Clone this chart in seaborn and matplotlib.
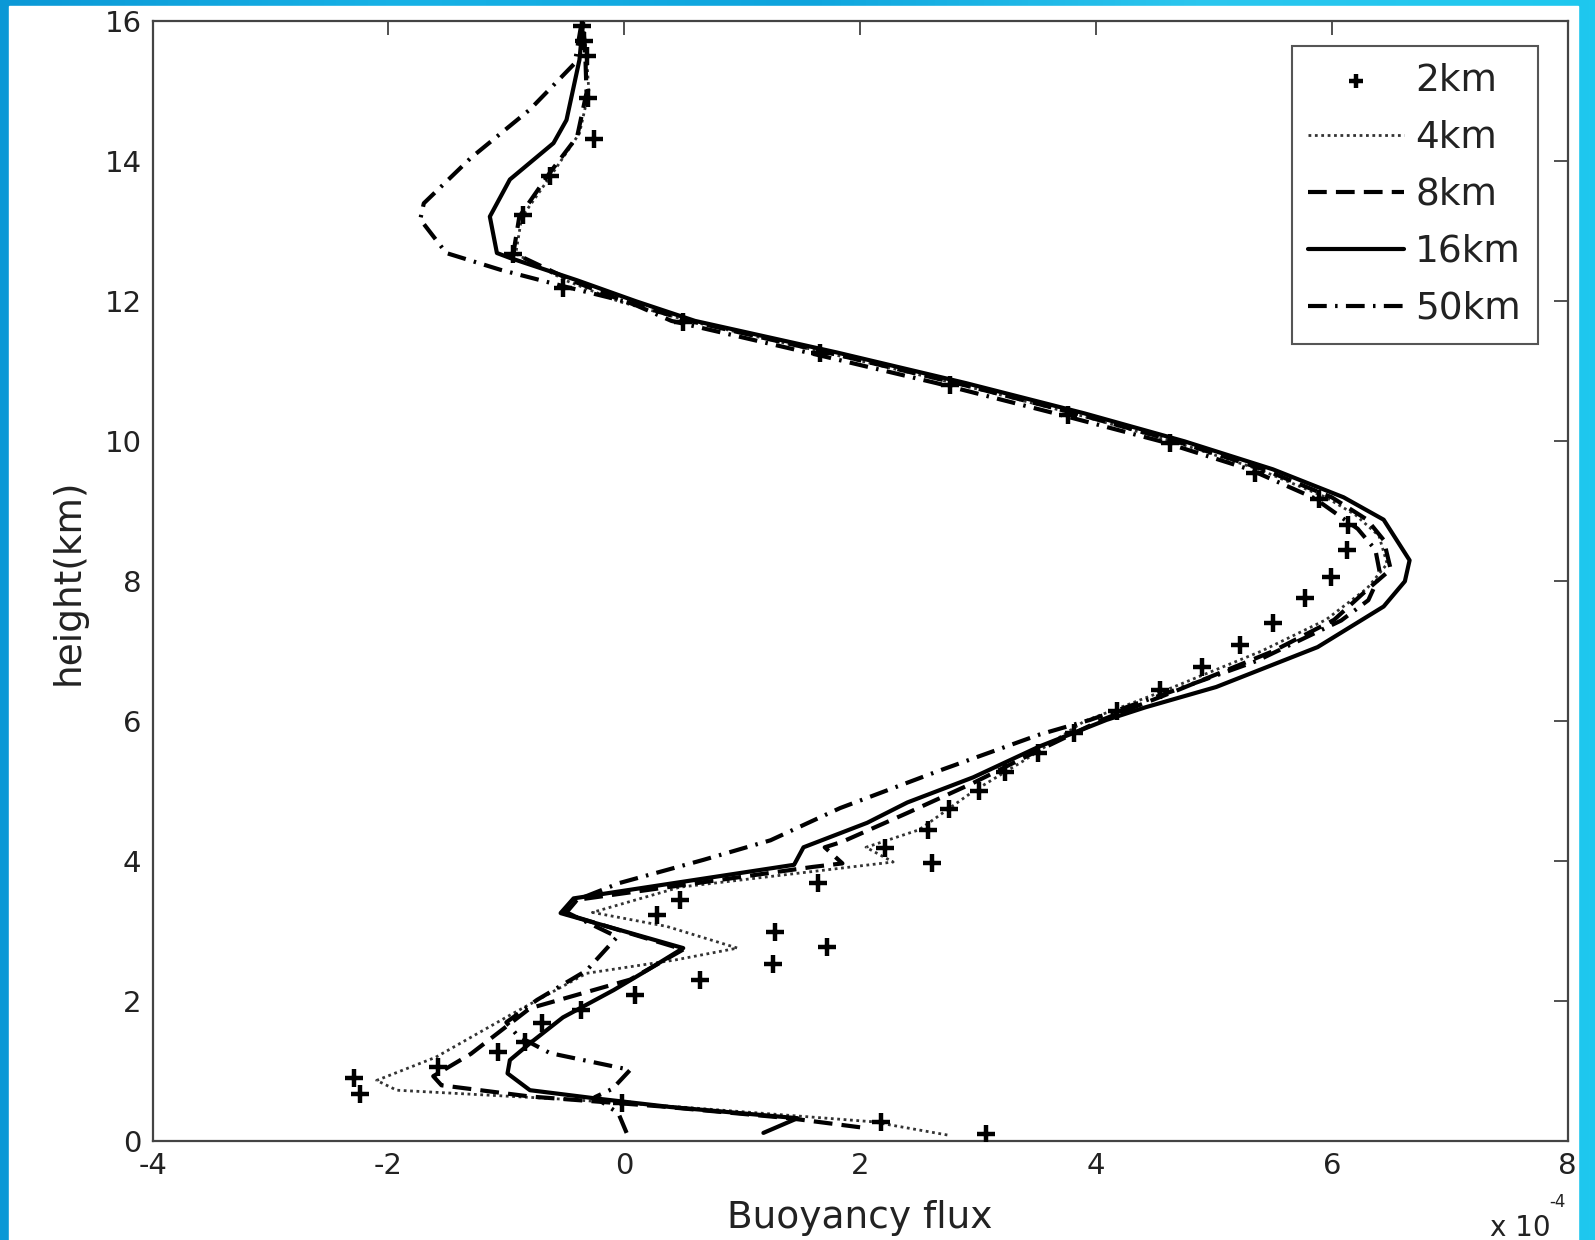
import numpy as np
import pandas as pd
import matplotlib
matplotlib.use("Agg")
import matplotlib.pyplot as plt
import seaborn as sns
from matplotlib.patches import Rectangle
from matplotlib.colors import LinearSegmentedColormap

# ---------------- data (buoyancy flux in 1e-4 units, height in km) ----------------
x_2km = [-0.36, -0.34, -0.32, -0.31, -0.26, -0.63, -0.86, -0.94, -0.52, 0.50, 1.66, 2.76, 3.76,
         4.63, 5.35, 5.89, 6.14, 6.13, 5.99, 5.77, 5.50, 5.22, 4.90, 4.54, 4.18, 3.81, 3.51,
         3.23, 3.01, 2.75, 2.58, 2.21, 2.61, 1.64, 0.47, 0.28, 1.28, 1.72, 1.26, 0.64, 0.09,
         -0.37, -0.70, -0.84, -1.07, -1.58, -2.29, -2.24, -0.02, 2.18, 3.07]
y_2km = [15.93, 15.72, 15.51, 14.90, 14.32, 13.79, 13.23, 12.67, 12.19, 11.70, 11.26, 10.81, 10.38,
         9.97, 9.55, 9.17, 8.81, 8.45, 8.06, 7.76, 7.40, 7.09, 6.78, 6.45, 6.15, 5.84, 5.55,
         5.28, 5.00, 4.75, 4.45, 4.19, 3.97, 3.69, 3.45, 3.23, 2.99, 2.78, 2.54, 2.31, 2.09,
         1.88, 1.69, 1.42, 1.28, 1.06, 0.90, 0.67, 0.55, 0.28, 0.11]

x_4km = [2.74, 2.10, 0.40, -0.50, -1.93, -2.10, -1.60, -0.94, -0.32, 0.43, 0.96, 0.36, -0.27,
         0.47, 2.28, 2.05, 2.50, 2.96, 3.40, 3.90, 4.60, 5.40, 5.95, 6.30, 6.47, 6.40, 6.20,
         5.95, 5.38, 4.65, 3.80, 2.80, 1.70, 0.55, -0.05, -0.50, -0.92, -0.87, -0.60, -0.38,
         -0.30, -0.32, -0.35]
y_4km = [0.09, 0.28, 0.50, 0.60, 0.73, 0.87, 1.20, 1.83, 2.40, 2.59, 2.76, 3.07, 3.27,
         3.63, 3.99, 4.20, 4.45, 5.00, 5.45, 6.00, 6.45, 7.00, 7.45, 7.90, 8.25, 8.65, 8.95,
         9.20, 9.60, 10.00, 10.40, 10.83, 11.27, 11.72, 12.00, 12.30, 12.68, 13.20, 13.85, 14.40,
         15.00, 15.50, 16.00]

x_8km = [2.00, 1.40, 0.30, -0.80, -1.55, -1.62, -1.30, -0.80, 0.05, 0.50, -0.50, -0.40, 1.60,
         1.85, 1.70, 1.85, 2.40, 2.96, 3.52, 4.05, 4.70, 5.50, 6.02, 6.30, 6.50, 6.44, 6.30,
         6.00, 5.42, 4.68, 3.82, 2.82, 1.72, 0.55, 0.00, -0.45, -0.94, -0.89, -0.63, -0.40,
         -0.32, -0.33, -0.35]
y_8km = [0.20, 0.33, 0.50, 0.64, 0.80, 0.93, 1.25, 1.90, 2.31, 2.74, 3.25, 3.45, 3.92,
         3.97, 4.20, 4.28, 4.69, 5.12, 5.59, 6.02, 6.45, 7.00, 7.45, 7.88, 8.17, 8.59, 8.88,
         9.20, 9.60, 10.00, 10.40, 10.83, 11.27, 11.72, 12.00, 12.30, 12.69, 13.21, 13.84, 14.35,
         14.98, 15.50, 16.00]

x_16km = [1.18, 1.47, 0.39, -0.23, -0.80, -0.99, -0.97, -0.80, -0.52, -0.09, 0.20, 0.50, -0.54,
          -0.43, 1.44, 1.52, 2.06, 2.40, 2.96, 3.52, 4.09, 4.42, 5.02, 5.88, 6.44, 6.62, 6.66,
          6.44, 6.10, 5.50, 4.75, 3.90, 2.90, 1.80, 0.60, 0.10, -0.40, -0.97, -1.08, -1.14,
          -0.97, -0.60, -0.49, -0.44, -0.38, -0.35]
y_16km = [0.12, 0.33, 0.49, 0.61, 0.73, 0.97, 1.16, 1.40, 1.77, 2.16, 2.45, 2.76, 3.26,
          3.47, 3.95, 4.20, 4.55, 4.84, 5.20, 5.64, 6.02, 6.20, 6.49, 7.06, 7.64, 8.00, 8.30,
          8.88, 9.20, 9.60, 10.00, 10.40, 10.83, 11.27, 11.72, 12.00, 12.30, 12.62, 12.69, 13.21,
          13.74, 14.26, 14.59, 14.98, 15.45, 15.98]

x_50km = [0.02, -0.05, -0.25, -0.10, 0.05, -0.63, -0.90, -1.00, -0.74, -0.32, -0.06, -0.50,
          -0.40, -0.04, 0.67, 1.24, 1.83, 2.68, 3.52, 3.95, 4.63, 5.36, 6.08, 6.31, 6.41, 6.37,
          6.22, 5.85, 5.30, 4.55, 3.65, 2.65, 1.55, 0.40, 0.05, -0.48, -1.05, -1.51, -1.73,
          -1.70, -1.30, -0.80, -0.42, -0.36]
y_50km = [0.12, 0.40, 0.63, 0.75, 1.02, 1.26, 1.50, 1.70, 2.02, 2.44, 2.92, 3.28,
          3.45, 3.69, 4.02, 4.30, 4.76, 5.30, 5.81, 6.02, 6.42, 6.86, 7.44, 7.73, 8.10, 8.45,
          8.75, 9.19, 9.60, 10.00, 10.40, 10.83, 11.27, 11.72, 11.98, 12.20, 12.45, 12.69, 13.17,
          13.40, 14.05, 14.74, 15.40, 16.00]

series_labels = ["2km", "4km", "8km", "16km", "50km"]
x_ticks = [-4, -2, 0, 2, 4, 6, 8]
x_tick_labels = ["-4", "-2", "0", "2", "4", "6", "8"]
y_ticks = [0, 2, 4, 6, 8, 10, 12, 14, 16]
y_tick_labels = ["0", "2", "4", "6", "8", "10", "12", "14", "16"]
x_label = "Buoyancy flux"
y_label = "height(km)"

# ---------------- style ----------------
sns.set_theme(style="white")
plt.rcParams["font.family"] = ["DejaVu Sans"]
plt.rcParams["axes.unicode_minus"] = False

W, H = 1595, 1240
fig = plt.figure(figsize=(W / 100, H / 100), dpi=100)

# decorative blue frame around the picture
bg = fig.add_axes([0, 0, 1, 1], zorder=-10)
grad = np.linspace(0, 1, 256)[None, :]
cmap = LinearSegmentedColormap.from_list(
    "frame", ["#0b98d6", "#17b2e6", "#0ea4dd", "#2bc6ee", "#1ec8ef"])
bg.imshow(np.vstack([grad, grad]), cmap=cmap, aspect="auto", extent=[0, 1, 0, 1])
bg.add_patch(Rectangle((9 / W, 0), (1578 - 9) / W, (H - 6) / H,
                       transform=bg.transAxes, color="white", zorder=2))
bg.set_xlim(0, 1)
bg.set_ylim(0, 1)
bg.set_axis_off()

ax = fig.add_axes([152.6 / W, 1 - 1141.3 / H, 1415 / W, 1120 / H])
ax.set_facecolor("white")

df2 = pd.DataFrame({"x": x_2km, "y": y_2km})
df4 = pd.DataFrame({"x": x_4km, "y": y_4km})
df8 = pd.DataFrame({"x": x_8km, "y": y_8km})
df16 = pd.DataFrame({"x": x_16km, "y": y_16km})
df50 = pd.DataFrame({"x": x_50km, "y": y_50km})

sns.lineplot(data=df4, x="x", y="y", sort=False, estimator=None, ax=ax, color="#333333",
             lw=2.0, linestyle=(0, (1.0, 1.3)), label=series_labels[1])
sns.lineplot(data=df8, x="x", y="y", sort=False, estimator=None, ax=ax, color="black",
             lw=3.0, linestyle=(0, (4.5, 2.2)), label=series_labels[2])
sns.lineplot(data=df16, x="x", y="y", sort=False, estimator=None, ax=ax, color="black",
             lw=3.0, linestyle="-", label=series_labels[3])
sns.lineplot(data=df50, x="x", y="y", sort=False, estimator=None, ax=ax, color="black",
             lw=3.0, linestyle=(0, (4.5, 2.0, 0.6, 2.0)), label=series_labels[4])
sns.scatterplot(data=df2, x="x", y="y", ax=ax, marker="+", s=170, color="black",
                linewidth=3.2, label=series_labels[0], zorder=5)

ax.set_xlim(-4, 8)
ax.set_ylim(0, 16)
ax.set_xticks(x_ticks)
ax.set_xticklabels(x_tick_labels)
ax.set_yticks(y_ticks)
ax.set_yticklabels(y_tick_labels)
ax.tick_params(direction="in", length=10, width=1.2, top=True, right=True,
               labelsize=21, pad=8, color="#333333", labelcolor="#222222")
for sp in ax.spines.values():
    sp.set_color("#444444")
    sp.set_linewidth(1.6)

ax.set_xlabel(x_label, fontsize=27, color="#222222")
ax.set_ylabel(y_label, fontsize=27, color="#222222")
ax.xaxis.label.set_va("center")
ax.yaxis.label.set_va("center")
ax.xaxis.set_label_coords(0.5, (1141.3 - 1218) / 1120)
ax.yaxis.set_label_coords((69 - 152.6) / 1415, 0.5)

# multiplier text
fig.text(1490 / W, 1 - 1228 / H, "x 10", fontsize=20, ha="left", va="center", color="#222222")
fig.text(1549 / W, 1 - 1202 / H, "-4", fontsize=12, ha="left", va="center", color="#222222")

handles, labels = ax.get_legend_handles_labels()
order = [labels.index(l) for l in series_labels]
leg = ax.legend([handles[i] for i in order], [labels[i] for i in order],
                loc="upper right", bbox_to_anchor=(0.979, 0.978), borderaxespad=0,
                fontsize=27, handlelength=2.55, handletextpad=0.3, labelspacing=0.56,
                borderpad=0.45, frameon=True, fancybox=False, framealpha=1,
                edgecolor="#555555", scatterpoints=1, markerscale=0.75)
leg.get_frame().set_linewidth(1.5)
for t in leg.get_texts():
    t.set_color("#222222")

fig.savefig("out.png", dpi=100)
